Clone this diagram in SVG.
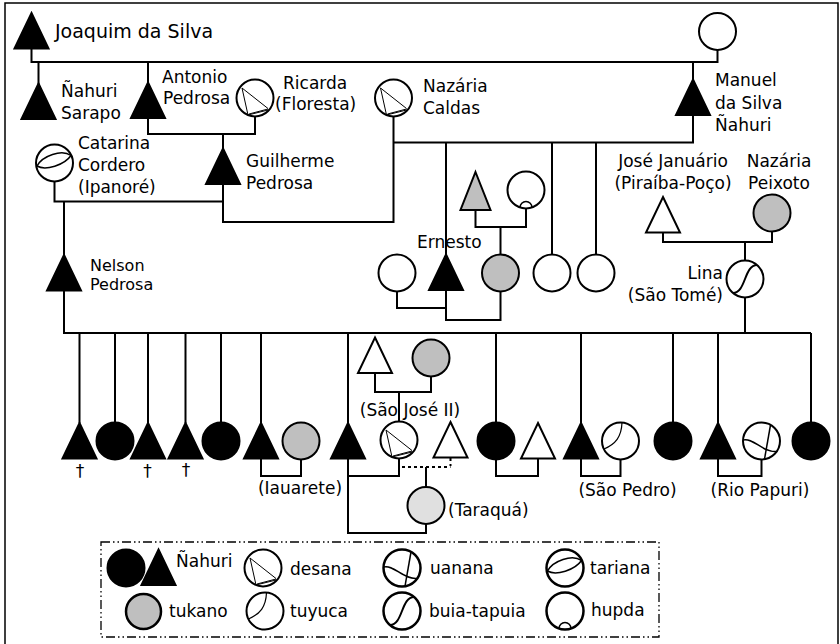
<svg xmlns="http://www.w3.org/2000/svg" xmlns:xlink="http://www.w3.org/1999/xlink" width="840" height="644" viewBox="0 0 840 644">
  <style>
    text { font-family: "DejaVu Sans", "Noto Sans", sans-serif; font-size: 17px; fill: #000; }
    .mid { text-anchor: middle; }
    .end { text-anchor: end; }
    .blk { fill: #000; stroke: #000; stroke-width: 2; }
    .wht { fill: #fff; stroke: #000; stroke-width: 2; }
    .gry { fill: #bfbfbf; stroke: #000; stroke-width: 2; }
    .lgry { fill: #e0e0e0; stroke: #000; stroke-width: 2; }
    .ln { fill: none; stroke: #000; stroke-width: 2; }
    .dot { fill: none; stroke: #000; stroke-width: 2; stroke-dasharray: 3 3; }
    .thin { fill: none; stroke: #000; stroke-width: 1; }
    .mark { fill: none; stroke: #000; stroke-width: 1.5; }
    .frame { fill: none; stroke: #000; stroke-width: 1.5; }
    .legend-box { fill: none; stroke: #000; stroke-width: 1.3; stroke-dasharray: 9 3 1.5 3 1.5 3; }
  </style>
  <defs>
    <!-- generic triangle centred on (0,0) -->
    <path id="tri" d="M0,-18 L17,17.5 L-17,17.5 Z"/>
    <!-- group markings drawn inside a circle of r=18.5 centred on (0,0) -->
    <g id="desana" class="thin">
      <path d="M-13,-10 L13,10.5 M-13,-10 L-7,17 L13,12 M-6,16 L13,11"/>
    </g>
    <g id="tuyuca" class="thin">
      <path d="M1.5,-18.4 C1,-4 -5,3 -16.5,8" stroke-width="1.2"/>
    </g>
    <g id="uanana" class="mark">
      <path d="M-18.3,-1 C-9,-4 2,12 15,10.5"/>
      <path d="M9,-16 L3,18.2"/>
    </g>
    <g id="tariana" class="mark">
      <path d="M-17.5,3 C-12,-7 7,-14 16.5,-7.5"/>
      <path d="M-17.5,3 C-9,8 10,2 16.5,-7.5"/>
    </g>
    <g id="buia" class="ln">
      <path d="M-12,14 C1,14 -1,-14 12,-14"/>
    </g>
    <g id="hupda" class="mark">
      <path d="M-6,17.5 A6,6 0 0 1 6,17.5"/>
    </g>
  </defs>

  <!-- outer frame -->
  <path class="frame" d="M5,650 V3 H838 V650"/>

  <!-- connectors -->
  <g id="connectors">
    <path class="ln" d="M31.5,49 V62 H717.5 V50"/>
    <path class="ln" d="M38.5,62 V84"/>
    <path class="ln" d="M148,62 V83"/>
    <path class="ln" d="M693,62 V80"/>
    <path class="ln" d="M693,115 V142.5 H393.5"/>
    <path class="ln" d="M148,118 V134 H255 V116.5"/>
    <path class="ln" d="M223,134 V148"/>
    <path class="ln" d="M393.5,116.5 V222 H223 V185"/>
    <path class="ln" d="M54.5,181.5 V201.5 H223"/>
    <path class="ln" d="M64,201.5 V255"/>
    <path class="ln" d="M64,291 V333 H811"/>
    <path class="ln" d="M446,142.5 V255"/>
    <path class="ln" d="M552,142.5 V254.5"/>
    <path class="ln" d="M596,142.5 V254.5"/>
    <path class="ln" d="M475.5,210 V227 H526 V208.5"/>
    <path class="ln" d="M500.5,227 V254.5"/>
    <path class="ln" d="M397,291.5 V308 H446"/>
    <path class="ln" d="M446,289 V320 H500.5 V291.5"/>
    <path class="ln" d="M663,233 V242 H772 V231.5"/>
    <path class="ln" d="M745,242 V260.5"/>
    <path class="ln" d="M745,297.5 V333"/>
    <!-- children of Nelson and Lina -->
    <path class="ln" d="M79.5,333 V423 M115,333 V422.5 M148,333 V423 M185.5,333 V423 M221,333 V422.5 M261,333 V423 M348,333 V423 M496,333 V422.5 M581,333 V423 M673,333 V422.5 M718,333 V423 M811,333 V422.5"/>
    <path class="ln" d="M261,459 V476 H301 V459.5"/>
    <path class="ln" d="M375,373.5 V392 H431 V376.5"/>
    <path class="ln" d="M399,392 V421.5"/>
    <path class="ln" d="M348,459 V533 H426 V524"/>
    <path class="ln" d="M348,476 H399 V458.5"/>
    <path class="dot" d="M402,467 H450.5 M450.5,458 V466"/>
    <path class="ln" d="M426,467 V487"/>
    <path class="ln" d="M496,459.5 V476 H538 V459"/>
    <path class="ln" d="M581,459 V476 H620.5 V459.5"/>
    <path class="ln" d="M718,459 V476 H761.5 V459.5"/>
  </g>

  <!-- first generation -->
  <g id="joaquim">
    <use href="#tri" class="blk" transform="translate(31.5,31)"/>
    <text x="55" y="38" style="font-size:19px">Joaquim da Silva</text>
  </g>
  <g id="joaquim-wife">
    <circle class="wht" cx="717.5" cy="31.5" r="18.5"/>
  </g>

  <!-- second generation -->
  <g id="nahuri-sarapo">
    <use href="#tri" class="blk" transform="translate(38.5,101.5)"/>
    <text x="61" y="97">Ñahuri</text>
    <text x="61" y="119">Sarapo</text>
  </g>
  <g id="antonio-pedrosa">
    <use href="#tri" class="blk" transform="translate(148,100.5)"/>
    <text x="162" y="83">Antonio</text>
    <text x="163" y="104">Pedrosa</text>
  </g>
  <g id="ricarda">
    <circle class="wht" cx="255" cy="98" r="18.5"/>
    <use href="#desana" transform="translate(255,98)"/>
    <text x="283" y="89">Ricarda</text>
    <text x="275" y="110">(Floresta)</text>
  </g>
  <g id="nazaria-caldas">
    <circle class="wht" cx="393.5" cy="98" r="18.5"/>
    <use href="#desana" transform="translate(393.5,98)"/>
    <text x="423" y="92">Nazária</text>
    <text x="423" y="114">Caldas</text>
  </g>
  <g id="manuel">
    <use href="#tri" class="blk" transform="translate(693,97.5)"/>
    <text x="715" y="86">Manuel</text>
    <text x="715" y="109">da Silva</text>
    <text x="715" y="131">Ñahuri</text>
  </g>

  <!-- third generation -->
  <g id="catarina">
    <circle class="wht" cx="54.5" cy="163" r="18.5"/>
    <use href="#tariana" transform="translate(54.5,163)"/>
    <text x="78" y="149">Catarina</text>
    <text x="78" y="171">Cordero</text>
    <text x="78" y="193">(Ipanoré)</text>
  </g>
  <g id="guilherme">
    <use href="#tri" class="blk" transform="translate(223,166.5)"/>
    <text x="246" y="167">Guilherme</text>
    <text x="246" y="189">Pedrosa</text>
  </g>
  <g id="nelson">
    <use href="#tri" class="blk" transform="translate(64,273)"/>
    <text x="90" y="271" style="font-size:16px">Nelson</text>
    <text x="90" y="290" style="font-size:16px">Pedrosa</text>
  </g>
  <g id="tukano-father">
    <path class="gry" d="M475.5,172 L490.5,210 L460.5,210 Z"/>
  </g>
  <g id="hupda-mother">
    <circle class="wht" cx="526" cy="190" r="18.5"/>
    <use href="#hupda" transform="translate(526,190)"/>
  </g>
  <g id="ernesto-wife-1">
    <circle class="wht" cx="397" cy="273" r="18.5"/>
  </g>
  <g id="ernesto">
    <use href="#tri" class="blk" transform="translate(446,272.5)"/>
    <text x="417" y="248">Ernesto</text>
  </g>
  <g id="ernesto-wife-2">
    <circle class="gry" cx="500.5" cy="273" r="18.5"/>
  </g>
  <g id="daughter-1">
    <circle class="wht" cx="552" cy="273" r="18.5"/>
  </g>
  <g id="daughter-2">
    <circle class="wht" cx="596" cy="273" r="18.5"/>
  </g>
  <g id="jose-januario">
    <use href="#tri" class="wht" transform="translate(663,215)"/>
    <text class="mid" x="673" y="167">José Januário</text>
    <text class="mid" x="673" y="189">(Piraíba-Poço)</text>
  </g>
  <g id="nazaria-peixoto">
    <circle class="gry" cx="772" cy="213" r="18.5"/>
    <text class="mid" x="779" y="167">Nazária</text>
    <text class="mid" x="779" y="189">Peixoto</text>
  </g>
  <g id="lina">
    <circle class="wht" cx="745" cy="279" r="18.5"/>
    <use href="#buia" transform="translate(745,279)"/>
    <text class="end" x="723" y="279">Lina</text>
    <text class="end" x="723" y="301">(São Tomé)</text>
  </g>

  <!-- children of Nelson and Lina, with spouses -->
  <g id="child-1">
    <use href="#tri" class="blk" transform="translate(79.5,441)"/>
    <text class="mid" x="80" y="477">†</text>
  </g>
  <g id="child-2">
    <circle class="blk" cx="115" cy="441" r="18.5"/>
  </g>
  <g id="child-3">
    <use href="#tri" class="blk" transform="translate(148,441)"/>
    <text class="mid" x="147.5" y="477">†</text>
  </g>
  <g id="child-4">
    <use href="#tri" class="blk" transform="translate(185.5,441)"/>
    <text class="mid" x="186" y="476">†</text>
  </g>
  <g id="child-5">
    <circle class="blk" cx="221" cy="441" r="18.5"/>
  </g>
  <g id="child-6">
    <use href="#tri" class="blk" transform="translate(261,441)"/>
  </g>
  <g id="child-6-wife">
    <circle class="gry" cx="301" cy="441" r="18.5"/>
    <text class="mid" x="300" y="494">(Iauarete)</text>
  </g>
  <g id="child-7">
    <use href="#tri" class="blk" transform="translate(348,441)"/>
  </g>
  <g id="sao-jose-father">
    <use href="#tri" class="wht" transform="translate(375,355.5)"/>
  </g>
  <g id="sao-jose-mother">
    <circle class="gry" cx="431" cy="358" r="18.5"/>
  </g>
  <g id="child-7-wife">
    <circle class="wht" cx="399" cy="440" r="18.5"/>
    <use href="#desana" transform="translate(399,440)"/>
    <text class="mid" x="410" y="416">(São José II)</text>
  </g>
  <g id="child-7-wife-partner">
    <use href="#tri" class="wht" transform="translate(450.5,440)"/>
  </g>
  <g id="taraqua">
    <circle class="lgry" cx="426" cy="505.5" r="18.5"/>
    <text x="448" y="516">(Taraquá)</text>
  </g>
  <g id="child-8">
    <circle class="blk" cx="496" cy="441" r="18.5"/>
  </g>
  <g id="child-8-husband">
    <use href="#tri" class="wht" transform="translate(538,441)"/>
  </g>
  <g id="child-9">
    <use href="#tri" class="blk" transform="translate(581,441)"/>
  </g>
  <g id="child-9-wife">
    <circle class="wht" cx="620.5" cy="441" r="18.5"/>
    <use href="#tuyuca" transform="translate(620.5,441)"/>
    <text class="mid" x="627.5" y="496">(São Pedro)</text>
  </g>
  <g id="child-10">
    <circle class="blk" cx="673" cy="441" r="18.5"/>
  </g>
  <g id="child-11">
    <use href="#tri" class="blk" transform="translate(718,441)"/>
  </g>
  <g id="child-11-wife">
    <circle class="wht" cx="761.5" cy="441" r="18.5"/>
    <use href="#uanana" transform="translate(761.5,441)"/>
    <text class="mid" x="760" y="496">(Rio Papuri)</text>
  </g>
  <g id="child-12">
    <circle class="blk" cx="811" cy="441" r="18.5"/>
  </g>

  <!-- legend -->
  <g id="legend">
    <rect class="legend-box" x="101" y="542" width="558" height="95"/>
    <circle class="blk" cx="126" cy="568" r="18.5"/>
    <use href="#tri" class="blk" transform="translate(158.5,567.5)"/>
    <text x="176" y="567">Ñahuri</text>
    <circle class="wht" cx="263" cy="568" r="18.5"/>
    <use href="#desana" transform="translate(263,568)"/>
    <text x="290" y="575">desana</text>
    <circle class="wht" cx="402" cy="568" r="18.5" style="stroke-width:2.5"/>
    <use href="#uanana" transform="translate(402,568)"/>
    <text x="430" y="574">uanana</text>
    <circle class="wht" cx="565" cy="568" r="18.5" style="stroke-width:2.5"/>
    <use href="#tariana" transform="translate(565,568)"/>
    <text x="590" y="574">tariana</text>
    <circle class="gry" cx="143.5" cy="611.5" r="17.5" style="stroke-width:2.5"/>
    <text x="169" y="617">tukano</text>
    <circle class="wht" cx="265" cy="611" r="18.5"/>
    <use href="#tuyuca" transform="translate(265,611)"/>
    <text x="290" y="617">tuyuca</text>
    <circle class="wht" cx="402" cy="611" r="18.5" style="stroke-width:2.5"/>
    <use href="#buia" transform="translate(402,611)"/>
    <text x="429" y="617">buia-tapuia</text>
    <circle class="wht" cx="565" cy="611" r="18.5" style="stroke-width:2.5"/>
    <use href="#hupda" transform="translate(565,611)"/>
    <text x="591" y="616">hupda</text>
  </g>
</svg>
